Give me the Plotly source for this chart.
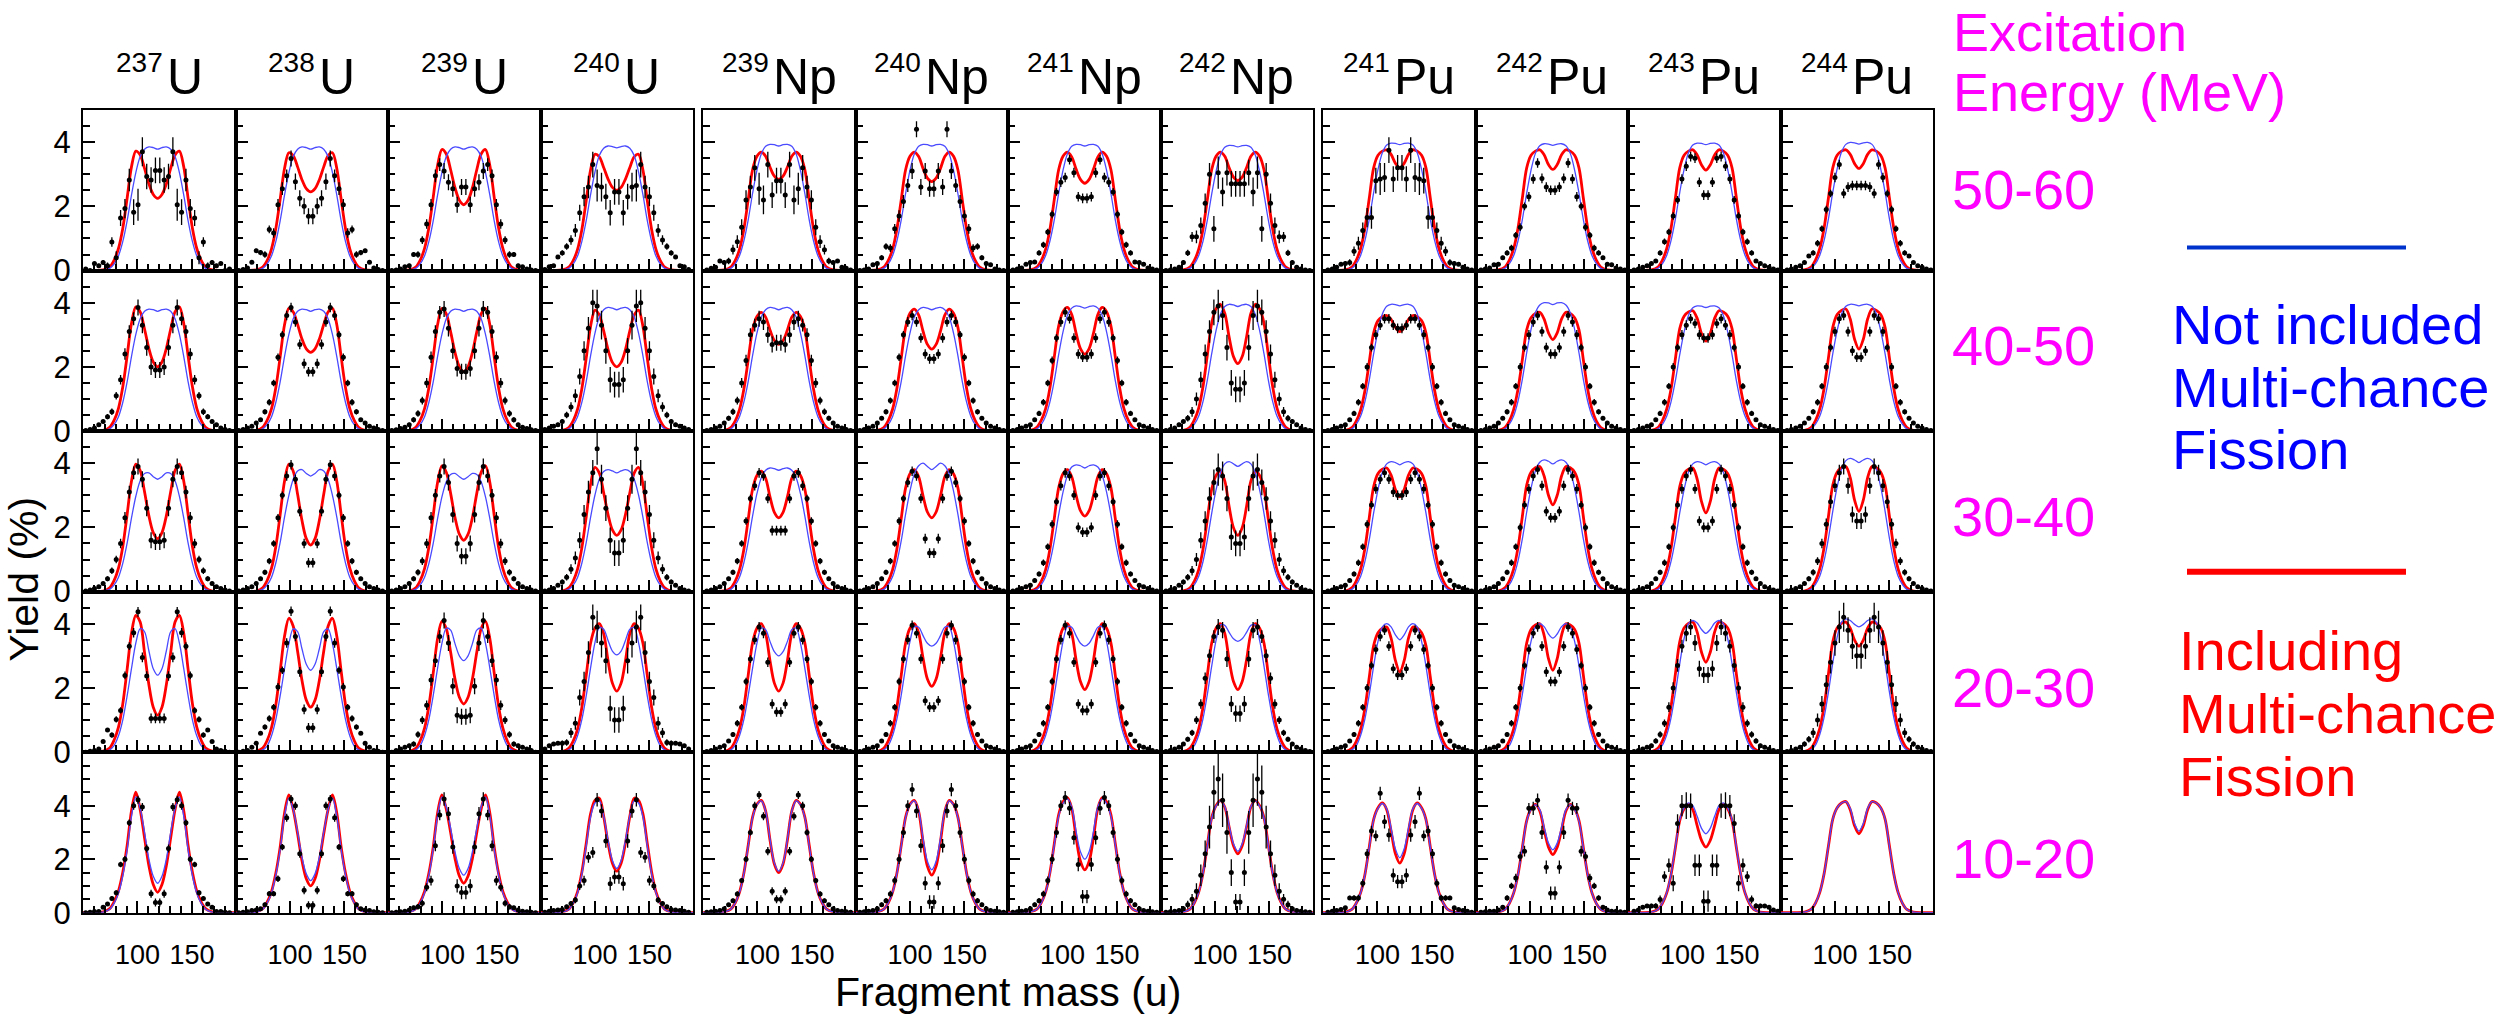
import plotly.graph_objects as go

# ---------------------------------------------------------------- categories
ELEMENTS = ["U", "U", "U", "U", "Np", "Np", "Np", "Np", "Pu", "Pu", "Pu", "Pu"]
MASS_NUMBERS = [237, 238, 239, 240, 239, 240, 241, 242, 241, 242, 243, 244]
ENERGY_BINS = ["50-60", "40-50", "30-40", "20-30", "10-20"]
X_TICKS = [100, 150]
Y_TICKS = [0, 2, 4]

# distance (u) from the symmetry point A/2 of each compound nucleus
CURVE_OFFSETS = [0, 4, 8, 12, 16, 20, 24, 28, 32, 36, 40, 44, 50, 58, 72]
DATA_OFFSETS = [2, 6, 10, 14, 18, 22, 26, 30, 34, 38, 42, 46, 50, 54, 58, 62, 66]

# ---------------------------------------------------------------- 50-60 MeV
RED_50_60 = [
    [2.25, 2.37, 2.7, 3.18, 3.6, 3.72, 3.23, 2.25, 1.31, 0.68, 0.32, 0.11, 0.02, 0, 0],
    [2.45, 2.55, 2.83, 3.23, 3.58, 3.67, 3.18, 2.22, 1.3, 0.67, 0.31, 0.11, 0.02, 0, 0],
    [2.05, 2.19, 2.58, 3.14, 3.63, 3.77, 3.27, 2.28, 1.33, 0.68, 0.32, 0.11, 0.02, 0, 0],
    [2.5, 2.59, 2.85, 3.21, 3.54, 3.62, 3.14, 2.19, 1.28, 0.66, 0.31, 0.11, 0.02, 0, 0],
    [2.84, 2.94, 3.22, 3.56, 3.69, 3.56, 3.14, 2.21, 1.29, 0.66, 0.31, 0.11, 0.02, 0, 0],
    [2.77, 2.88, 3.18, 3.55, 3.69, 3.56, 3.14, 2.21, 1.29, 0.66, 0.31, 0.11, 0.02, 0, 0],
    [2.72, 2.84, 3.16, 3.54, 3.69, 3.56, 3.14, 2.21, 1.29, 0.66, 0.31, 0.11, 0.02, 0, 0],
    [2.8, 2.91, 3.2, 3.56, 3.69, 3.56, 3.14, 2.21, 1.29, 0.66, 0.31, 0.11, 0.02, 0, 0],
    [3.2, 3.34, 3.62, 3.76, 3.72, 3.59, 3.2, 2.26, 1.32, 0.68, 0.32, 0.11, 0.02, 0, 0],
    [3.15, 3.3, 3.61, 3.76, 3.72, 3.59, 3.2, 2.26, 1.32, 0.68, 0.32, 0.11, 0.02, 0, 0],
    [3.13, 3.29, 3.6, 3.76, 3.72, 3.59, 3.2, 2.26, 1.32, 0.68, 0.32, 0.11, 0.02, 0, 0],
    [3.18, 3.33, 3.62, 3.76, 3.72, 3.59, 3.2, 2.26, 1.32, 0.68, 0.32, 0.11, 0.02, 0, 0],
]
BLUE_50_60 = [
    [3.78, 3.83, 3.85, 3.78, 3.55, 3.05, 2.35, 1.55, 0.9, 0.45, 0.2, 0.07, 0.02, 0, 0],
    [3.78, 3.83, 3.85, 3.78, 3.55, 3.05, 2.35, 1.55, 0.9, 0.45, 0.2, 0.07, 0.02, 0, 0],
    [3.78, 3.83, 3.85, 3.78, 3.55, 3.05, 2.35, 1.55, 0.9, 0.45, 0.2, 0.07, 0.02, 0, 0],
    [3.82, 3.86, 3.88, 3.81, 3.58, 3.07, 2.37, 1.56, 0.91, 0.45, 0.2, 0.07, 0.02, 0, 0],
    [3.88, 3.92, 3.93, 3.87, 3.63, 3.12, 2.4, 1.58, 0.92, 0.46, 0.2, 0.07, 0.02, 0, 0],
    [3.88, 3.92, 3.93, 3.87, 3.63, 3.12, 2.4, 1.58, 0.92, 0.46, 0.2, 0.07, 0.02, 0, 0],
    [3.88, 3.92, 3.93, 3.87, 3.63, 3.12, 2.4, 1.58, 0.92, 0.46, 0.2, 0.07, 0.02, 0, 0],
    [3.85, 3.89, 3.9, 3.84, 3.6, 3.09, 2.38, 1.57, 0.91, 0.46, 0.2, 0.07, 0.02, 0, 0],
    [3.92, 3.96, 3.97, 3.91, 3.67, 3.15, 2.43, 1.6, 0.93, 0.47, 0.21, 0.07, 0.02, 0, 0],
    [3.9, 3.94, 3.95, 3.89, 3.65, 3.13, 2.41, 1.59, 0.92, 0.46, 0.21, 0.07, 0.02, 0, 0],
    [3.92, 3.96, 3.97, 3.91, 3.67, 3.15, 2.43, 1.6, 0.93, 0.47, 0.21, 0.07, 0.02, 0, 0],
    [3.94, 3.98, 3.99, 3.93, 3.69, 3.17, 2.44, 1.61, 0.93, 0.47, 0.21, 0.07, 0.02, 0, 0],
]
DATA_50_60 = [
    [3.12, 2.82, 2.93, 3.7, 2.05, 1.82, 2.82, 1.93, 1.64, 0.4, 0.89, 0.15, 0.25, 0.15, 0.22, 0.0, 0.05],
    [1.69, 2.0, 2.25, 2.77, 3.49, 2.95, 2.55, 2.05, 1.17, 1.28, 0.5, 0.56, 0.62, 0.26, 0.08, 0.03, 0.0],
    [2.6, 2.05, 2.55, 2.75, 3.1, 3.3, 2.95, 2.05, 1.45, 0.95, 0.5, 0.5, 0.15, 0.12, 0.05, 0.02, 0.0],
    [2.45, 1.8, 2.3, 2.6, 2.65, 3.3, 2.6, 2.3, 1.8, 1.25, 0.95, 0.75, 0.55, 0.42, 0.15, 0.12, 0.03],
    [2.8, 2.35, 3.3, 2.2, 2.55, 3.2, 2.6, 2.2, 1.35, 0.9, 0.65, 0.3, 0.25, 0.3, 0.1, 0.07, 0.02],
    [2.55, 3.1, 2.6, 4.4, 3.1, 2.65, 2.15, 1.7, 1.3, 0.7, 0.75, 0.4, 0.22, 0.18, 0.05, 0.02, 0.0],
    [2.25, 2.3, 3.05, 3.45, 2.9, 2.75, 2.45, 1.75, 1.2, 0.8, 0.55, 0.27, 0.25, 0.2, 0.08, 0.05, 0.02],
    [2.7, 2.7, 3.05, 2.45, 3.05, 1.3, 3.0, 2.1, 1.4, 1.05, 1.05, 0.55, 0.25, 0.1, 0.05, 0.02, 0.0],
    [3.2, 2.85, 3.75, 2.9, 2.85, 2.8, 1.65, 1.65, 1.25, 0.85, 0.6, 0.25, 0.22, 0.2, 0.1, 0.05, 0.02],
    [2.5, 2.6, 2.87, 3.35, 2.85, 2.3, 2.0, 1.35, 1.1, 0.7, 0.55, 0.4, 0.2, 0.18, 0.08, 0.05, 0.02],
    [2.35, 2.75, 3.5, 3.55, 3.25, 2.85, 2.2, 1.7, 1.2, 0.9, 0.55, 0.3, 0.22, 0.15, 0.1, 0.05, 0.02],
    [2.65, 2.65, 2.6, 2.4, 3.3, 2.9, 2.4, 1.9, 1.3, 0.85, 0.55, 0.45, 0.25, 0.15, 0.1, 0.05, 0.02],
]

# ---------------------------------------------------------------- 40-50 MeV
RED_40_50 = [
    [2.0, 2.15, 2.57, 3.18, 3.71, 3.87, 3.35, 2.34, 1.37, 0.7, 0.33, 0.12, 0.02, 0, 0],
    [2.45, 2.56, 2.87, 3.32, 3.71, 3.82, 3.31, 2.31, 1.35, 0.69, 0.33, 0.12, 0.02, 0, 0],
    [1.85, 2.01, 2.45, 3.09, 3.65, 3.82, 3.31, 2.31, 1.35, 0.69, 0.33, 0.12, 0.02, 0, 0],
    [2.0, 2.14, 2.54, 3.12, 3.62, 3.77, 3.27, 2.28, 1.33, 0.68, 0.32, 0.11, 0.02, 0, 0],
    [2.7, 2.82, 3.15, 3.55, 3.7, 3.57, 3.15, 2.22, 1.3, 0.67, 0.31, 0.11, 0.02, 0, 0],
    [2.55, 2.7, 3.11, 3.61, 3.8, 3.67, 3.23, 2.28, 1.33, 0.68, 0.32, 0.11, 0.02, 0, 0],
    [2.4, 2.57, 3.05, 3.63, 3.85, 3.72, 3.27, 2.31, 1.35, 0.69, 0.33, 0.12, 0.02, 0, 0],
    [2.1, 2.32, 2.93, 3.67, 3.95, 3.81, 3.36, 2.37, 1.38, 0.71, 0.34, 0.12, 0.02, 0, 0],
    [3.1, 3.23, 3.48, 3.6, 3.56, 3.44, 3.06, 2.16, 1.26, 0.65, 0.31, 0.11, 0.02, 0, 0],
    [2.85, 3.06, 3.49, 3.7, 3.66, 3.53, 3.15, 2.22, 1.3, 0.67, 0.31, 0.11, 0.02, 0, 0],
    [2.8, 3.04, 3.51, 3.75, 3.71, 3.58, 3.19, 2.25, 1.31, 0.68, 0.32, 0.11, 0.02, 0, 0],
    [2.55, 2.86, 3.49, 3.8, 3.76, 3.63, 3.23, 2.28, 1.33, 0.68, 0.32, 0.11, 0.02, 0, 0],
]
BLUE_40_50 = [
    [3.73, 3.78, 3.8, 3.73, 3.5, 3.01, 2.32, 1.53, 0.89, 0.44, 0.2, 0.07, 0.02, 0, 0],
    [3.73, 3.78, 3.8, 3.73, 3.5, 3.01, 2.32, 1.53, 0.89, 0.44, 0.2, 0.07, 0.02, 0, 0],
    [3.73, 3.78, 3.8, 3.73, 3.5, 3.01, 2.32, 1.53, 0.89, 0.44, 0.2, 0.07, 0.02, 0, 0],
    [3.78, 3.83, 3.85, 3.78, 3.55, 3.05, 2.35, 1.55, 0.9, 0.45, 0.2, 0.07, 0.02, 0, 0],
    [3.78, 3.83, 3.85, 3.78, 3.55, 3.05, 2.35, 1.55, 0.9, 0.45, 0.2, 0.07, 0.02, 0, 0],
    [3.78, 3.83, 3.85, 3.78, 3.55, 3.05, 2.35, 1.55, 0.9, 0.45, 0.2, 0.07, 0.02, 0, 0],
    [3.83, 3.88, 3.9, 3.83, 3.6, 3.09, 2.38, 1.57, 0.91, 0.46, 0.2, 0.07, 0.02, 0, 0],
    [3.88, 3.93, 3.95, 3.88, 3.64, 3.13, 2.41, 1.59, 0.92, 0.46, 0.21, 0.07, 0.02, 0, 0],
    [3.9, 3.94, 3.95, 3.89, 3.65, 3.13, 2.41, 1.59, 0.92, 0.46, 0.21, 0.07, 0.02, 0, 0],
    [3.94, 3.99, 4.0, 3.93, 3.69, 3.17, 2.44, 1.61, 0.93, 0.47, 0.21, 0.07, 0.02, 0, 0],
    [3.85, 3.89, 3.9, 3.84, 3.6, 3.09, 2.38, 1.57, 0.91, 0.46, 0.2, 0.07, 0.02, 0, 0],
    [3.9, 3.94, 3.95, 3.89, 3.65, 3.13, 2.41, 1.59, 0.92, 0.46, 0.21, 0.07, 0.02, 0, 0],
]
DATA_40_50 = [
    [1.9, 2.0, 2.6, 3.3, 3.85, 3.5, 3.1, 2.4, 1.6, 1.1, 0.6, 0.45, 0.3, 0.2, 0.1, 0.05, 0.02],
    [1.85, 2.1, 2.7, 3.4, 3.85, 3.6, 3.0, 2.3, 1.5, 0.9, 0.6, 0.35, 0.25, 0.15, 0.1, 0.05, 0.02],
    [1.85, 1.95, 2.5, 3.2, 3.8, 3.7, 3.1, 2.3, 1.5, 0.95, 0.55, 0.35, 0.2, 0.12, 0.08, 0.04, 0.02],
    [1.45, 1.6, 2.5, 3.3, 3.9, 4.0, 3.2, 2.5, 1.7, 1.1, 0.75, 0.5, 0.3, 0.2, 0.15, 0.1, 0.05],
    [2.75, 2.7, 3.0, 3.4, 3.5, 3.3, 3.0, 2.2, 1.5, 0.95, 0.6, 0.4, 0.25, 0.15, 0.1, 0.05, 0.02],
    [2.25, 2.4, 2.9, 3.4, 3.6, 3.4, 3.0, 2.3, 1.5, 0.95, 0.6, 0.4, 0.25, 0.15, 0.1, 0.05, 0.02],
    [2.3, 2.4, 2.9, 3.5, 3.7, 3.4, 2.9, 2.2, 1.5, 0.9, 0.55, 0.35, 0.2, 0.15, 0.1, 0.05, 0.02],
    [1.3, 1.5, 2.6, 3.6, 3.9, 3.7, 3.1, 2.4, 1.6, 1.0, 0.6, 0.4, 0.3, 0.2, 0.1, 0.05, 0.02],
    [3.2, 3.3, 3.5, 3.5, 3.3, 3.0, 2.6, 2.0, 1.4, 0.9, 0.55, 0.35, 0.2, 0.15, 0.1, 0.05, 0.02],
    [2.4, 2.6, 3.1, 3.6, 3.4, 3.0, 2.6, 2.0, 1.4, 0.9, 0.6, 0.4, 0.25, 0.15, 0.1, 0.05, 0.02],
    [2.9, 3.0, 3.35, 3.5, 3.3, 3.0, 2.6, 2.0, 1.4, 0.9, 0.55, 0.35, 0.2, 0.15, 0.1, 0.05, 0.02],
    [2.3, 2.5, 3.1, 3.6, 3.5, 3.1, 2.6, 2.0, 1.4, 0.9, 0.6, 0.4, 0.25, 0.15, 0.1, 0.05, 0.02],
]

# ---------------------------------------------------------------- 30-40 MeV
RED_30_40 = [
    [1.65, 1.84, 2.36, 3.11, 3.77, 3.97, 3.44, 2.4, 1.4, 0.72, 0.34, 0.12, 0.02, 0, 0],
    [1.45, 1.65, 2.22, 3.03, 3.75, 3.97, 3.44, 2.4, 1.4, 0.72, 0.34, 0.12, 0.02, 0, 0],
    [1.6, 1.79, 2.31, 3.06, 3.72, 3.92, 3.4, 2.37, 1.38, 0.71, 0.34, 0.12, 0.02, 0, 0],
    [1.75, 1.92, 2.4, 3.08, 3.69, 3.87, 3.35, 2.34, 1.37, 0.7, 0.33, 0.12, 0.02, 0, 0],
    [2.3, 2.47, 2.95, 3.53, 3.75, 3.62, 3.19, 2.25, 1.31, 0.68, 0.32, 0.11, 0.02, 0, 0],
    [2.3, 2.48, 2.98, 3.58, 3.8, 3.67, 3.23, 2.28, 1.33, 0.68, 0.32, 0.11, 0.02, 0, 0],
    [2.35, 2.52, 3.0, 3.58, 3.8, 3.67, 3.23, 2.28, 1.33, 0.68, 0.32, 0.11, 0.02, 0, 0],
    [1.75, 1.99, 2.65, 3.45, 3.75, 3.62, 3.19, 2.25, 1.31, 0.68, 0.32, 0.11, 0.02, 0, 0],
    [2.95, 3.18, 3.63, 3.85, 3.81, 3.68, 3.27, 2.31, 1.35, 0.69, 0.33, 0.12, 0.02, 0, 0],
    [2.7, 3.0, 3.6, 3.9, 3.86, 3.72, 3.32, 2.34, 1.37, 0.7, 0.33, 0.12, 0.02, 0, 0],
    [2.45, 2.8, 3.5, 3.85, 3.81, 3.68, 3.27, 2.31, 1.35, 0.69, 0.33, 0.12, 0.02, 0, 0],
    [2.5, 2.85, 3.55, 3.9, 3.86, 3.72, 3.32, 2.34, 1.37, 0.7, 0.33, 0.12, 0.02, 0, 0],
]
BLUE_30_40 = [
    [3.5, 3.58, 3.7, 3.68, 3.45, 2.97, 2.29, 1.51, 0.88, 0.44, 0.2, 0.07, 0.02, 0, 0],
    [3.6, 3.68, 3.8, 3.76, 3.5, 3.0, 2.32, 1.53, 0.89, 0.44, 0.2, 0.07, 0.02, 0, 0],
    [3.5, 3.58, 3.68, 3.65, 3.42, 2.95, 2.27, 1.5, 0.87, 0.44, 0.2, 0.07, 0.02, 0, 0],
    [3.7, 3.76, 3.8, 3.74, 3.5, 3.01, 2.32, 1.53, 0.89, 0.44, 0.2, 0.07, 0.02, 0, 0],
    [3.78, 3.83, 3.85, 3.78, 3.55, 3.05, 2.35, 1.55, 0.9, 0.45, 0.2, 0.07, 0.02, 0, 0],
    [3.8, 3.9, 4.0, 3.92, 3.66, 3.13, 2.41, 1.59, 0.92, 0.46, 0.21, 0.07, 0.02, 0, 0],
    [3.85, 3.92, 3.95, 3.88, 3.62, 3.1, 2.39, 1.58, 0.92, 0.46, 0.21, 0.07, 0.02, 0, 0],
    [3.9, 3.98, 4.05, 3.98, 3.7, 3.17, 2.44, 1.61, 0.93, 0.47, 0.21, 0.07, 0.02, 0, 0],
    [3.95, 4.02, 4.05, 3.98, 3.72, 3.18, 2.45, 1.62, 0.94, 0.47, 0.21, 0.07, 0.02, 0, 0],
    [3.98, 4.06, 4.1, 4.03, 3.76, 3.22, 2.48, 1.64, 0.95, 0.48, 0.21, 0.07, 0.02, 0, 0],
    [3.95, 4.02, 4.05, 3.98, 3.72, 3.18, 2.45, 1.62, 0.94, 0.47, 0.21, 0.07, 0.02, 0, 0],
    [4.02, 4.1, 4.15, 4.08, 3.8, 3.26, 2.51, 1.66, 0.96, 0.48, 0.22, 0.07, 0.02, 0, 0],
]
DATA_30_40 = [
    [1.55, 1.6, 2.6, 3.5, 3.9, 3.7, 3.1, 2.3, 1.5, 1.0, 0.65, 0.4, 0.25, 0.15, 0.1, 0.05, 0.02],
    [0.9, 1.5, 2.5, 3.5, 3.95, 3.6, 3.0, 2.3, 1.5, 0.95, 0.6, 0.4, 0.25, 0.15, 0.1, 0.05, 0.02],
    [1.1, 1.5, 2.4, 3.4, 3.9, 3.6, 3.0, 2.3, 1.5, 0.95, 0.6, 0.4, 0.25, 0.15, 0.1, 0.05, 0.02],
    [1.2, 1.6, 2.6, 3.5, 4.45, 3.7, 3.1, 2.4, 1.6, 1.05, 0.7, 0.45, 0.3, 0.2, 0.1, 0.05, 0.02],
    [1.9, 1.9, 2.9, 3.6, 3.7, 3.3, 2.9, 2.2, 1.5, 0.95, 0.6, 0.4, 0.25, 0.15, 0.1, 0.05, 0.02],
    [1.2, 1.65, 2.9, 3.6, 3.75, 3.4, 2.9, 2.2, 1.5, 0.95, 0.6, 0.4, 0.25, 0.15, 0.1, 0.05, 0.02],
    [1.85, 2.0, 3.0, 3.6, 3.7, 3.3, 2.8, 2.1, 1.4, 0.9, 0.55, 0.35, 0.2, 0.15, 0.1, 0.05, 0.02],
    [1.5, 1.7, 2.9, 3.6, 3.8, 3.4, 2.9, 2.2, 1.6, 1.0, 0.65, 0.45, 0.3, 0.2, 0.1, 0.05, 0.02],
    [3.0, 3.1, 3.5, 3.7, 3.5, 3.2, 2.7, 2.1, 1.4, 0.9, 0.55, 0.35, 0.2, 0.15, 0.1, 0.05, 0.02],
    [2.3, 2.5, 3.3, 3.8, 3.6, 3.2, 2.7, 2.0, 1.4, 0.9, 0.6, 0.4, 0.25, 0.15, 0.1, 0.05, 0.02],
    [2.0, 2.2, 3.2, 3.8, 3.6, 3.2, 2.7, 2.0, 1.4, 0.9, 0.6, 0.4, 0.25, 0.15, 0.1, 0.05, 0.02],
    [2.2, 2.4, 3.3, 3.9, 3.7, 3.3, 2.8, 2.1, 1.5, 0.95, 0.6, 0.4, 0.25, 0.15, 0.1, 0.05, 0.02],
]

# ---------------------------------------------------------------- 20-30 MeV
RED_20_30 = [
    [1.15, 1.4, 2.1, 3.1, 4.05, 4.26, 3.7, 2.58, 1.5, 0.77, 0.37, 0.13, 0.03, 0, 0],
    [1.4, 1.62, 2.24, 3.14, 3.92, 4.17, 3.61, 2.52, 1.47, 0.76, 0.36, 0.13, 0.03, 0, 0],
    [1.5, 1.71, 2.28, 3.11, 3.84, 4.07, 3.53, 2.46, 1.44, 0.74, 0.35, 0.12, 0.02, 0, 0],
    [1.9, 2.15, 2.85, 3.69, 4.0, 3.86, 3.4, 2.4, 1.4, 0.72, 0.34, 0.12, 0.02, 0, 0],
    [1.9, 2.15, 2.85, 3.69, 4.0, 3.86, 3.4, 2.4, 1.4, 0.72, 0.34, 0.12, 0.02, 0, 0],
    [2.05, 2.28, 2.93, 3.71, 4.0, 3.86, 3.4, 2.4, 1.4, 0.72, 0.34, 0.12, 0.02, 0, 0],
    [1.95, 2.2, 2.87, 3.7, 4.0, 3.86, 3.4, 2.4, 1.4, 0.72, 0.34, 0.12, 0.02, 0, 0],
    [1.95, 2.2, 2.87, 3.7, 4.0, 3.86, 3.4, 2.4, 1.4, 0.72, 0.34, 0.12, 0.02, 0, 0],
    [2.5, 2.85, 3.55, 3.9, 3.86, 3.72, 3.32, 2.34, 1.37, 0.7, 0.33, 0.12, 0.02, 0, 0],
    [2.55, 2.91, 3.64, 4.0, 3.96, 3.82, 3.4, 2.4, 1.4, 0.72, 0.34, 0.12, 0.02, 0, 0],
    [2.8, 3.11, 3.74, 4.05, 4.01, 3.87, 3.44, 2.43, 1.42, 0.73, 0.34, 0.12, 0.02, 0, 0],
    [3.3, 3.49, 3.86, 4.05, 4.01, 3.87, 3.44, 2.43, 1.42, 0.73, 0.34, 0.12, 0.02, 0, 0],
]
BLUE_20_30 = [
    [2.4, 2.6, 3.15, 3.75, 3.85, 3.4, 2.6, 1.75, 1.0, 0.5, 0.2, 0.07, 0.01, 0, 0],
    [2.55, 2.74, 3.22, 3.75, 3.84, 3.38, 2.6, 1.75, 1.01, 0.5, 0.19, 0.07, 0.01, 0, 0],
    [2.85, 3.0, 3.38, 3.8, 3.86, 3.39, 2.61, 1.76, 1.01, 0.51, 0.2, 0.07, 0.01, 0, 0],
    [3.03, 3.15, 3.48, 3.83, 3.88, 3.41, 2.63, 1.76, 1.02, 0.51, 0.2, 0.07, 0.01, 0, 0],
    [3.0, 3.13, 3.45, 3.81, 3.86, 3.39, 2.61, 1.76, 1.01, 0.51, 0.2, 0.07, 0.01, 0, 0],
    [3.3, 3.39, 3.63, 3.89, 3.91, 3.44, 2.65, 1.78, 1.03, 0.51, 0.2, 0.07, 0.01, 0, 0],
    [3.3, 3.39, 3.63, 3.89, 3.91, 3.44, 2.65, 1.78, 1.03, 0.51, 0.2, 0.07, 0.01, 0, 0],
    [3.45, 3.53, 3.73, 3.95, 3.96, 3.48, 2.68, 1.8, 1.04, 0.52, 0.2, 0.07, 0.01, 0, 0],
    [3.5, 3.65, 3.9, 4.0, 3.9, 3.45, 2.68, 1.8, 1.04, 0.52, 0.2, 0.07, 0.01, 0, 0],
    [3.55, 3.68, 3.91, 4.0, 3.9, 3.45, 2.68, 1.8, 1.04, 0.52, 0.2, 0.07, 0.01, 0, 0],
    [3.7, 3.82, 4.02, 4.1, 4.0, 3.54, 2.75, 1.85, 1.07, 0.53, 0.21, 0.07, 0.01, 0, 0],
    [3.9, 3.98, 4.1, 4.15, 4.05, 3.58, 2.78, 1.87, 1.08, 0.54, 0.21, 0.07, 0.01, 0, 0],
]
DATA_20_30 = [
    [1.05, 1.05, 2.37, 2.95, 4.37, 3.72, 3.3, 2.39, 1.3, 1.02, 0.53, 0.69, 0.33, 0.1, 0.05, 0.03, 0.0],
    [0.76, 1.33, 2.5, 3.6, 4.39, 3.4, 2.55, 2.03, 1.4, 1.05, 0.78, 0.59, 0.28, 0.15, 0.05, 0.03, 0.0],
    [1.1, 1.15, 2.05, 3.4, 4.1, 3.6, 2.85, 2.25, 1.46, 1.0, 0.55, 0.25, 0.2, 0.15, 0.1, 0.05, 0.0],
    [1.0, 1.36, 2.85, 3.4, 3.9, 4.2, 3.1, 2.2, 1.7, 0.9, 0.6, 0.3, 0.28, 0.28, 0.25, 0.2, 0.1],
    [1.25, 1.5, 2.8, 3.7, 3.9, 3.5, 2.9, 2.2, 1.4, 0.9, 0.55, 0.35, 0.2, 0.15, 0.1, 0.05, 0.02],
    [1.4, 1.6, 2.9, 3.7, 3.95, 3.5, 2.9, 2.2, 1.4, 0.9, 0.55, 0.35, 0.2, 0.15, 0.1, 0.05, 0.02],
    [1.3, 1.5, 2.8, 3.7, 3.95, 3.5, 2.9, 2.2, 1.4, 0.9, 0.55, 0.35, 0.2, 0.15, 0.1, 0.05, 0.02],
    [1.2, 1.5, 2.9, 3.8, 3.9, 3.6, 3.0, 2.3, 1.5, 1.0, 0.6, 0.4, 0.25, 0.15, 0.1, 0.05, 0.02],
    [2.4, 2.6, 3.3, 3.8, 3.6, 3.2, 2.7, 2.0, 1.4, 0.9, 0.55, 0.35, 0.2, 0.15, 0.1, 0.05, 0.02],
    [2.2, 2.5, 3.3, 3.9, 3.7, 3.2, 2.7, 2.0, 1.4, 0.9, 0.55, 0.35, 0.2, 0.15, 0.1, 0.05, 0.02],
    [2.4, 2.6, 3.4, 3.9, 3.7, 3.3, 2.7, 2.0, 1.4, 0.9, 0.55, 0.35, 0.2, 0.15, 0.1, 0.05, 0.02],
    [3.0, 3.3, 3.8, 4.2, 3.9, 3.4, 2.8, 2.1, 1.5, 1.0, 0.6, 0.4, 0.25, 0.15, 0.1, 0.05, 0.02],
]

# ---------------------------------------------------------------- 10-20 MeV
RED_10_20 = [
    [0.76, 1.05, 1.75, 2.8, 3.85, 4.5, 3.8, 2.5, 1.5, 0.8, 0.4, 0.15, 0.03, 0, 0],
    [1.0, 1.27, 1.95, 2.95, 3.85, 4.4, 3.72, 2.45, 1.47, 0.78, 0.39, 0.15, 0.03, 0, 0],
    [1.1, 1.37, 2.03, 3.0, 3.87, 4.4, 3.72, 2.45, 1.47, 0.78, 0.39, 0.15, 0.03, 0, 0],
    [1.55, 1.85, 2.6, 3.6, 4.28, 4.2, 3.7, 2.6, 1.52, 0.78, 0.37, 0.13, 0.03, 0, 0],
    [1.5, 1.82, 2.72, 3.8, 4.2, 4.05, 3.57, 2.52, 1.47, 0.76, 0.36, 0.13, 0.03, 0, 0],
    [1.4, 1.74, 2.66, 3.78, 4.2, 4.05, 3.57, 2.52, 1.47, 0.76, 0.36, 0.13, 0.03, 0, 0],
    [1.6, 1.92, 2.82, 3.9, 4.3, 4.15, 3.66, 2.58, 1.5, 0.77, 0.37, 0.13, 0.03, 0, 0],
    [2.2, 2.5, 3.2, 3.95, 4.2, 4.0, 3.55, 2.52, 1.47, 0.76, 0.36, 0.13, 0.03, 0, 0],
    [1.85, 2.2, 3.05, 3.85, 4.1, 3.92, 3.49, 2.46, 1.43, 0.74, 0.35, 0.12, 0.02, 0, 0],
    [2.17, 2.45, 3.1, 3.8, 4.05, 3.88, 3.44, 2.43, 1.42, 0.73, 0.34, 0.12, 0.02, 0, 0],
    [2.45, 2.7, 3.25, 3.85, 4.05, 3.88, 3.44, 2.43, 1.42, 0.73, 0.34, 0.12, 0.02, 0, 0],
    [2.95, 3.25, 3.85, 4.15, 4.1, 3.92, 3.5, 2.49, 1.45, 0.75, 0.35, 0.12, 0.02, 0, 0],
]
BLUE_10_20 = [
    [1.1, 1.36, 2.0, 3.0, 3.9, 4.33, 3.6, 2.35, 1.38, 0.72, 0.35, 0.13, 0.02, 0, 0],
    [1.2, 1.45, 2.08, 3.02, 3.85, 4.28, 3.6, 2.36, 1.4, 0.73, 0.36, 0.13, 0.02, 0, 0],
    [1.4, 1.65, 2.28, 3.15, 3.95, 4.33, 3.62, 2.37, 1.4, 0.73, 0.36, 0.13, 0.02, 0, 0],
    [1.65, 1.95, 2.7, 3.62, 4.18, 4.1, 3.58, 2.5, 1.45, 0.74, 0.35, 0.12, 0.02, 0, 0],
    [1.55, 1.86, 2.75, 3.8, 4.18, 4.03, 3.55, 2.5, 1.46, 0.75, 0.36, 0.13, 0.03, 0, 0],
    [1.6, 1.92, 2.78, 3.8, 4.18, 4.03, 3.55, 2.5, 1.46, 0.75, 0.36, 0.13, 0.03, 0, 0],
    [2.0, 2.28, 3.05, 3.95, 4.25, 4.08, 3.6, 2.54, 1.48, 0.76, 0.36, 0.13, 0.03, 0, 0],
    [2.3, 2.58, 3.25, 3.97, 4.18, 3.98, 3.53, 2.5, 1.46, 0.75, 0.36, 0.13, 0.03, 0, 0],
    [2.05, 2.38, 3.15, 3.88, 4.08, 3.9, 3.47, 2.45, 1.42, 0.73, 0.35, 0.12, 0.02, 0, 0],
    [2.35, 2.6, 3.2, 3.85, 4.03, 3.86, 3.42, 2.42, 1.41, 0.73, 0.34, 0.12, 0.02, 0, 0],
    [2.95, 3.15, 3.6, 4.0, 4.1, 3.92, 3.48, 2.46, 1.44, 0.74, 0.35, 0.12, 0.02, 0, 0],
    [3.05, 3.33, 3.9, 4.15, 4.1, 3.92, 3.5, 2.49, 1.45, 0.75, 0.35, 0.12, 0.02, 0, 0],
]
DATA_10_20 = [
    [0.38, 0.71, 2.4, 3.95, 4.22, 4.0, 3.36, 2.0, 1.8, 0.74, 0.53, 0.32, 0.2, 0.04, 0.04, 0.02, 0.0],
    [0.28, 0.84, 2.2, 4.0, 4.25, 3.55, 2.45, 1.27, 0.71, 0.71, 0.3, 0.15, 0.1, 0.08, 0.03, 0.02, 0.0],
    [0.75, 1.0, 2.45, 3.7, 4.25, 3.65, 2.5, 1.2, 0.95, 0.35, 0.22, 0.18, 0.1, 0.05, 0.03, 0.02, 0.0],
    [1.33, 1.08, 2.68, 3.8, 4.22, 2.25, 2.07, 1.2, 1.0, 0.47, 0.34, 0.22, 0.12, 0.1, 0.08, 0.05, 0.02],
    [0.5, 0.8, 2.3, 3.6, 4.4, 4.0, 3.0, 2.0, 1.2, 0.7, 0.45, 0.3, 0.15, 0.08, 0.05, 0.03, 0.02],
    [0.4, 1.1, 2.5, 3.8, 4.6, 4.0, 3.0, 2.0, 1.2, 0.7, 0.45, 0.3, 0.15, 0.08, 0.05, 0.03, 0.02],
    [0.6, 1.8, 2.8, 3.9, 4.3, 4.0, 3.0, 2.0, 1.2, 0.7, 0.45, 0.3, 0.15, 0.08, 0.05, 0.03, 0.02],
    [0.4, 1.5, 3.0, 4.2, 5.0, 4.5, 3.2, 2.2, 1.4, 0.8, 0.5, 0.3, 0.15, 0.08, 0.05, 0.03, 0.02],
    [1.16, 1.4, 2.9, 3.4, 4.46, 2.87, 3.05, 2.2, 1.1, 0.55, 0.55, 0.55, 0.18, 0.12, 0.08, 0.05, 0.02],
    [0.73, 1.7, 3.0, 4.2, 3.9, 3.9, 2.3, 2.1, 1.3, 1.0, 0.55, 0.2, 0.1, 0.05, 0.05, 0.03, 0.02],
    [0.43, 1.77, 1.77, 4.0, 4.0, 4.0, 3.33, 1.1, 1.77, 1.35, 0.49, 0.25, 0.25, 0.25, 0.2, 0.1, 0.05],
    [],
]

# ---------------------------------------------------------------- error bars
ERR_S = [0.15, 0.15, 0.15, 0.15, 0.15, 0.15, 0.12, 0.12, 0.1, 0.1, 0.08, 0.06, 0.05, 0.04, 0.03, 0.02, 0.02]
ERR_M = [0.25, 0.25, 0.25, 0.25, 0.25, 0.2, 0.2, 0.18, 0.15, 0.12, 0.1, 0.08, 0.06, 0.05, 0.04, 0.03, 0.02]
ERR_L = [0.4, 0.4, 0.4, 0.45, 0.5, 0.4, 0.35, 0.3, 0.25, 0.2, 0.15, 0.1, 0.08, 0.06, 0.05, 0.04, 0.03]
ERR_XL = [0.3, 0.5, 0.8, 1.0, 1.0, 1.0, 0.8, 0.5, 0.4, 0.3, 0.2, 0.15, 0.1, 0.08, 0.05, 0.04, 0.03]
ERR_50_60 = [ERR_L, ERR_M, ERR_M, ERR_L, ERR_L, ERR_M, ERR_S, ERR_L, ERR_L, ERR_S, ERR_S, ERR_S]
ERR_40_50 = [ERR_M, ERR_S, ERR_M, ERR_L, ERR_M, ERR_S, ERR_S, ERR_L, ERR_S, ERR_S, ERR_S, ERR_S]
ERR_30_40 = [ERR_M, ERR_S, ERR_M, ERR_L, ERR_S, ERR_S, ERR_S, ERR_L, ERR_S, ERR_S, ERR_S, ERR_M]
ERR_20_30 = [ERR_S, ERR_S, ERR_M, ERR_L, ERR_S, ERR_S, ERR_S, ERR_M, ERR_S, ERR_S, ERR_M, ERR_L]
ERR_10_20 = [ERR_S, ERR_S, ERR_M, ERR_M, ERR_S, ERR_M, ERR_M, ERR_XL, ERR_M, ERR_M, ERR_L, []]

RED = [RED_50_60, RED_40_50, RED_30_40, RED_20_30, RED_10_20]
BLUE = [BLUE_50_60, BLUE_40_50, BLUE_30_40, BLUE_20_30, BLUE_10_20]
DATA = [DATA_50_60, DATA_40_50, DATA_30_40, DATA_20_30, DATA_10_20]
ERRS = [ERR_50_60, ERR_40_50, ERR_30_40, ERR_20_30, ERR_10_20]
Y_MAX = [5, 5, 5, 5, 6]

# ---------------------------------------------------------------- page geometry (px)
W, H = 2507, 1024
GROUP_LEFT = [83, 703, 1323]
PANEL_W = 152.5
ROW_TOP = 112
PANEL_H = 163.4
FONT = "Liberation Sans, Arial, sans-serif"
RED_C = "#ff0000"
BLUE_C = "#4a4aff"
MAGENTA = "#ff00ff"
SIDE_SIZE = 56
TITLE_SIZE = 54
SYMBOL_SIZE = 50
MASSNUM_SIZE = 28
# Liberation Sans advance widths (em) for the glyphs used in the column titles
GLYPH_EM = {"U": 0.722, "N": 0.722, "P": 0.667, "p": 0.556, "u": 0.556, "digit": 0.556}


def mirrored(center, offsets, values):
    """Symmetric yield about A/2: values listed for one half, both halves drawn."""
    n = len(values)
    offs = offsets[:n]
    xs = [center - d for d in reversed(offs)] + [center + d for d in offs]
    ys = list(reversed(values)) + list(values)
    return xs, ys


def mirrored_curve(center, offsets, values):
    xs, ys = mirrored(center, offsets, values)
    # the two halves share the point at offset 0
    half = len(values)
    return xs[:half] + xs[half + 1:], ys[:half] + ys[half + 1:]


fig = go.Figure()
layout_axes = {}

for r in range(5):
    for c in range(12):
        k = r * 12 + c + 1
        sfx = "" if k == 1 else str(k)
        g, j = divmod(c, 4)
        x0 = GROUP_LEFT[g] + j * PANEL_W
        x1 = x0 + PANEL_W
        y0 = ROW_TOP + r * PANEL_H
        y1 = y0 + PANEL_H
        center = MASS_NUMBERS[c] / 2.0

        layout_axes["xaxis" + sfx] = dict(
            domain=[x0 / W, x1 / W], range=[50, 190], anchor="y" + sfx,
            showline=True, mirror=True, linecolor="black", linewidth=2,
            ticks="inside", ticklen=12, tickwidth=2, tickcolor="black",
            tickmode="array", tickvals=X_TICKS, showticklabels=(r == 4),
            ticklabelstandoff=17,
            tickfont=dict(family=FONT, size=27, color="black"),
            minor=dict(ticks="inside", ticklen=7, tickwidth=1.5, tickcolor="black",
                       tickmode="linear", tick0=0, dtick=10, showgrid=False),
            showgrid=False, zeroline=False, fixedrange=True,
        )
        layout_axes["yaxis" + sfx] = dict(
            domain=[1 - y1 / H, 1 - y0 / H], range=[0, Y_MAX[r]], anchor="x" + sfx,
            showline=True, mirror=True, linecolor="black", linewidth=2,
            ticks="inside", ticklen=12, tickwidth=2, tickcolor="black",
            tickmode="array", tickvals=Y_TICKS, showticklabels=(c == 0),
            ticklabelstandoff=4,
            tickfont=dict(family=FONT, size=31, color="black"),
            minor=dict(ticks="inside", ticklen=7, tickwidth=1.5, tickcolor="black",
                       tickmode="linear", tick0=0, dtick=0.5, showgrid=False),
            showgrid=False, zeroline=False, fixedrange=True,
        )

        xr, yr = mirrored_curve(center, CURVE_OFFSETS, RED[r][c])
        fig.add_trace(go.Scatter(
            x=xr, y=yr, mode="lines", xaxis="x" + sfx, yaxis="y" + sfx,
            line=dict(color=RED_C, width=2.8, shape="spline", smoothing=0.9),
            showlegend=False, hoverinfo="skip"))
        xb, yb = mirrored_curve(center, CURVE_OFFSETS, BLUE[r][c])
        fig.add_trace(go.Scatter(
            x=xb, y=yb, mode="lines", xaxis="x" + sfx, yaxis="y" + sfx,
            line=dict(color=BLUE_C, width=1.3, shape="spline", smoothing=0.9),
            showlegend=False, hoverinfo="skip"))

        vals = DATA[r][c]
        if vals:
            xd, yd = mirrored(center, DATA_OFFSETS, vals)
            _, ed = mirrored(center, DATA_OFFSETS, ERRS[r][c])
            fig.add_trace(go.Scatter(
                x=xd, y=yd, mode="markers", xaxis="x" + sfx, yaxis="y" + sfx,
                marker=dict(color="black", size=5),
                error_y=dict(type="data", array=ed, color="black", thickness=1.3, width=0),
                showlegend=False, hoverinfo="skip"))

# ---------------------------------------------------------------- text
ann = []
# column titles: raised mass number followed by the element symbol, centred on the column
for c in range(12):
    g, j = divmod(c, 4)
    xc = GROUP_LEFT[g] + (j + 0.5) * PANEL_W
    num = str(MASS_NUMBERS[c])
    num_w = len(num) * GLYPH_EM["digit"] * MASSNUM_SIZE
    sym_w = sum(GLYPH_EM[ch] for ch in ELEMENTS[c]) * SYMBOL_SIZE
    split = xc - (num_w + sym_w) / 2 + num_w
    ann.append(dict(x=(split + 1) / W, y=1 - 108 / H, xref="paper", yref="paper",
                    xanchor="left", yanchor="bottom", showarrow=False, borderpad=0,
                    text=ELEMENTS[c], font=dict(family=FONT, size=SYMBOL_SIZE, color="black")))
    ann.append(dict(x=(split - 1) / W, y=1 - 80 / H, xref="paper", yref="paper",
                    xanchor="right", yanchor="bottom", showarrow=False, borderpad=0,
                    text=num, font=dict(family=FONT, size=MASSNUM_SIZE, color="black")))

# heading of the energy column, two separate lines set close together
for txt, yc in [("Excitation", 33), ("Energy (MeV)", 94)]:
    ann.append(dict(x=1952 / W, y=1 - yc / H, xref="paper", yref="paper",
                    xanchor="left", yanchor="middle", showarrow=False, borderpad=0,
                    text=txt, font=dict(family=FONT, size=TITLE_SIZE, color=MAGENTA)))

ENERGY_Y = [193, 352, 526, 700, 874]
for label, yc in zip(ENERGY_BINS, ENERGY_Y):
    ann.append(dict(x=1950 / W, y=1 - yc / H, xref="paper", yref="paper",
                    xanchor="left", yanchor="middle", showarrow=False, text=label,
                    font=dict(family=FONT, size=SIDE_SIZE, color=MAGENTA)))

side_text = [
    ("Not included", 2170, 330, "#0000ff"),
    ("Multi-chance", 2170, 394, "#0000ff"),
    ("Fission", 2170, 458, "#0000ff"),
    ("Including", 2177, 662, RED_C),
    ("Multi-chance", 2177, 726, RED_C),
    ("Fission", 2177, 790, RED_C),
]
for txt, xl, yc, col in side_text:
    ann.append(dict(x=xl / W, y=1 - yc / H, xref="paper", yref="paper",
                    xanchor="left", yanchor="middle", showarrow=False, text=txt,
                    font=dict(family=FONT, size=SIDE_SIZE, color=col)))

ann.append(dict(x=1008 / W, y=1 - 1010 / H, xref="paper", yref="paper",
                xanchor="center", yanchor="middle", showarrow=False,
                text="Fragment mass (u)", font=dict(family=FONT, size=41, color="black")))
ann.append(dict(x=24 / W, y=1 - 590 / H, xref="paper", yref="paper",
                xanchor="center", yanchor="middle", showarrow=False, textangle=-90,
                text="Yield (%)", font=dict(family=FONT, size=41, color="black")))

shapes = [
    dict(type="line", xref="paper", yref="paper", x0=2187 / W, x1=2406 / W,
         y0=1 - 252 / H, y1=1 - 252 / H, line=dict(color="#0033cc", width=4)),
    dict(type="line", xref="paper", yref="paper", x0=2187 / W, x1=2406 / W,
         y0=1 - 582 / H, y1=1 - 582 / H, line=dict(color=RED_C, width=6)),
]

fig.update_layout(
    width=W, height=H, margin=dict(l=0, r=0, t=0, b=0),
    paper_bgcolor="white", plot_bgcolor="white",
    annotations=ann, shapes=shapes, showlegend=False,
    **layout_axes,
)

fig.write_html("out.html", include_plotlyjs=True, config={"displayModeBar": False})
